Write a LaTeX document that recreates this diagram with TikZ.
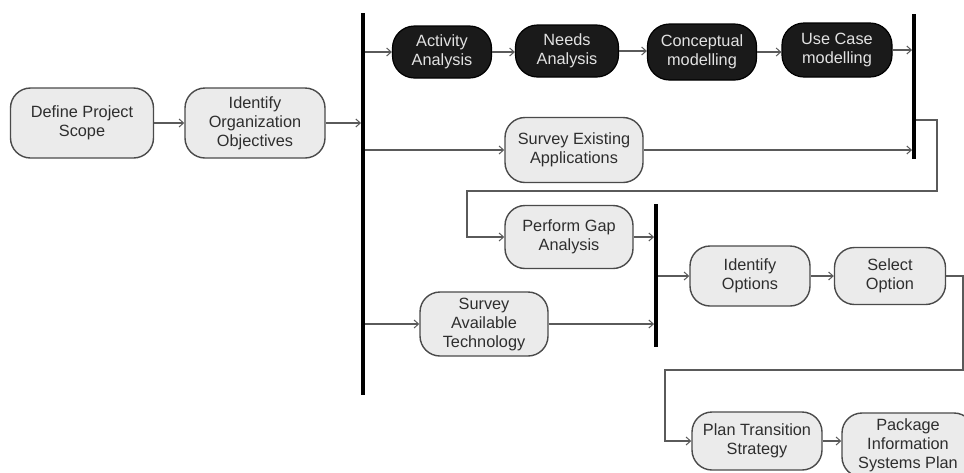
\documentclass[tikz,border=0pt]{standalone}
\usepackage{fontspec}
\setmainfont{Liberation Sans}
\usetikzlibrary{arrows.meta}
\definecolor{boxfill}{HTML}{EBEBEB}
\definecolor{boxline}{HTML}{4A4A4A}
\definecolor{boxtext}{HTML}{2E2E2E}
\definecolor{darkfill}{HTML}{1A1A1A}
\definecolor{darktext}{HTML}{E2E2E2}
\definecolor{wire}{HTML}{5A5A5A}
\begin{document}
\begin{tikzpicture}[x=1pt,y=-1pt,
  graybox/.style={rectangle, rounded corners=20pt, draw=boxline, line width=1.4pt,
    fill=boxfill, text=boxtext, align=center, inner sep=0pt,
    font=\fontsize{16.3}{19}\selectfont},
  darkbox/.style={rectangle, rounded corners=22pt, draw=black, line width=1.2pt,
    fill=darkfill, text=darktext, align=center, inner sep=0pt,
    font=\fontsize{16.3}{19}\selectfont},
  syncbar/.style={rectangle, fill=black, draw=none, minimum width=3.5pt, inner sep=0pt},
  conn/.style={draw=wire, line width=1.2pt,
    -{Straight Barb[length=4.5pt,width=8pt,line width=1pt]}},
]
\useasboundingbox (0,0) rectangle (964,472);
\fill[white] (0,0) rectangle (964,472);
\clip (0,0) rectangle (964,472);

% synchronisation bars
\node[syncbar, minimum height=382pt] (bar1) at (363,204) {};
\node[syncbar, minimum height=145pt] (bar2) at (914,86.5) {};
\node[syncbar, minimum height=143pt] (bar3) at (656,275.5) {};

% activities
\node[graybox, minimum width=143pt, minimum height=70pt] (def) at (82,123) {Define Project\\Scope};
\node[graybox, minimum width=140pt, minimum height=70pt] (ido) at (255,123) {Identify\\Organization\\Objectives};

\node[darkbox, minimum width=99pt,  minimum height=52pt] (act)  at (442,52) {Activity\\Analysis};
\node[darkbox, minimum width=103pt, minimum height=52pt] (need) at (567,51) {Needs\\Analysis};
\node[darkbox, minimum width=109pt, minimum height=56pt] (conc) at (702,52) {Conceptual\\modelling};
\node[darkbox, minimum width=110pt, minimum height=54pt] (usec) at (837,50) {Use Case\\modelling};

\node[graybox, minimum width=138pt, minimum height=65pt] (sea) at (574,150) {Survey Existing\\Applications};
\node[graybox, minimum width=128pt, minimum height=63pt] (gap) at (569,237) {Perform Gap\\Analysis};
\node[graybox, minimum width=128pt, minimum height=64pt] (sat) at (484,324) {Survey\\Available\\Technology};

\node[graybox, minimum width=120pt, minimum height=60pt] (iop) at (750,276) {Identify\\Options};
\node[graybox, minimum width=111pt, minimum height=57pt] (sop) at (890,276) {Select\\Option};

\node[graybox, minimum width=130pt, minimum height=58pt] (pts) at (757,441) {Plan Transition\\Strategy};
\node[graybox, minimum width=132pt, minimum height=64pt] (pis) at (908,445) {Package\\Information\\Systems Plan};

% bend points of the long connectors
\coordinate (r1) at (937,120);
\coordinate (l1) at (467,191);
\coordinate (r2) at (963,276);
\coordinate (l2) at (665,370);

% flow
\draw[conn] (def.east) -- (ido.west);
\draw[conn] (ido.east) -- (ido.east -| bar1.west);

\draw[conn] (bar1.east |- act.west) -- (act.west);
\draw[conn] (act.east) -- (act.east -| need.west);
\draw[conn] (need.east) -- (need.east -| conc.west);
\draw[conn] (conc.east) -- (conc.east -| usec.west);
\draw[conn] (usec.east) -- (usec.east -| bar2.west);

\draw[conn] (bar1.east |- sea.west) -- (sea.west);
\draw[conn] (sea.east) -- (sea.east -| bar2.west);

\draw[conn] (bar2.east |- r1) -- (r1) |- (l1) |- (gap.west);
\draw[conn] (gap.east) -- (gap.east -| bar3.west);

\draw[conn] (bar1.east |- sat.west) -- (sat.west);
\draw[conn] (sat.east) -- (sat.east -| bar3.west);

\draw[conn] (bar3.east |- iop.west) -- (iop.west);
\draw[conn] (iop.east) -- (sop.west);

\draw[conn] (sop.east) -- (r2) |- (l2) |- (pts.west);
\draw[conn] (pts.east) -- (pts.east -| pis.west);
\end{tikzpicture}
\end{document}
